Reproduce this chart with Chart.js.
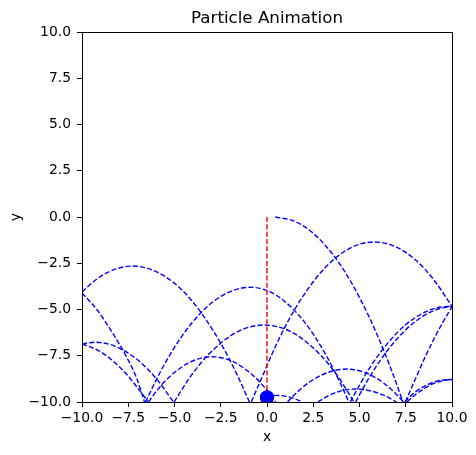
<!DOCTYPE html>
<html><head><meta charset="utf-8">
<script src="https://cdn.jsdelivr.net/npm/chart.js@4"></script>
<style>html,body{margin:0;padding:0;background:#fff}canvas{display:block}</style>
</head><body>
<canvas id="c" width="476" height="455"></canvas>
<script>
// tick values (both axes)
const tickValues = [-10, -7.5, -5, -2.5, 0, 2.5, 5, 7.5, 10];

// particle trail, one array per flight segment (x, y)
const arc1  = [[0.45,0],[1.5,-0.23],[2.5,-0.88],[3.5,-1.95],[4.5,-3.44],[5.5,-5.36],[6.3,-7.19],[6.9,-8.74],[7.35,-10]];
const arc2  = [[7.48,-10],[8,-8.8],[8.5,-7.67],[9,-6.64],[9.5,-5.7],[10,-4.85]];
const arc3  = [[-0.85,-10],[-0.2,-8.5],[0.5,-6.9],[1.5,-4.99],[3,-2.89],[4.5,-1.68],[5.8,-1.35],[7,-1.63],[8,-2.3],[9,-3.37],[10,-4.83]];
const arc4  = [[-10,-4.05],[-9.3,-3.43],[-8.5,-2.94],[-7.25,-2.65],[-5.5,-3.22],[-4,-4.6],[-2.5,-6.82],[-1.6,-8.56],[-0.95,-10]];
const arc5  = [[-10,-4.1],[-9.2,-5.0],[-8.3,-6.35],[-7.6,-7.55],[-7.05,-8.7],[-6.62,-10]];
const arc6  = [[-6.57,-10],[-5.5,-7.88],[-4,-5.65],[-2.5,-4.29],[-0.9,-3.8],[0.5,-4.23],[2,-5.64],[3.2,-7.48],[4.0,-9.06],[4.42,-10]];
const arc7  = [[4.5,-10],[5.5,-8.23],[6.5,-6.85],[7.5,-5.82],[8.5,-5.16],[9.3,-4.88],[10,-4.83]];
const arc7b = [[4.79,-10],[5.5,-8.72],[6.5,-7.23],[7.5,-6.09],[8.5,-5.32],[9.3,-4.96],[10,-4.83]];
const arc8  = [[-5.02,-10],[-4.15,-8.64],[-3.15,-7.42],[-1.65,-6.23],[-0.15,-5.84],[1.35,-6.23],[2.85,-7.42],[3.85,-8.64],[4.7,-10]];
const arc9  = [[-10,-6.86],[-9.3,-6.77],[-8.2,-6.99],[-7,-7.72],[-6,-8.72],[-5.05,-10]];
const arc9b = [[-10,-6.86],[-9.2,-7.17],[-8.4,-7.72],[-7.6,-8.49],[-6.9,-9.36],[-6.42,-10]];
const arc10 = [[-6.4,-10],[-5.87,-9.28],[-5.17,-8.55],[-4.17,-7.85],[-2.97,-7.55],[-1.77,-7.85],[-0.77,-8.55],[-0.07,-9.28],[0.46,-10]];
const arc11 = [[1.11,-10],[1.6,-9.5],[2.3,-8.92],[3.3,-8.4],[4.3,-8.22],[5.3,-8.41],[6.3,-8.97],[7.0,-9.59],[7.38,-10]];
const arc12 = [[7.45,-10],[8,-9.47],[8.5,-9.15],[9,-8.93],[9.5,-8.81],[10,-8.78]];
const arc12b= [[7.57,-10],[8,-9.62],[8.5,-9.27],[9,-9.01],[9.5,-8.85],[10,-8.78]];
const arc13 = [[2.75,-10],[3.3,-9.67],[3.9,-9.43],[4.75,-9.3],[5.6,-9.4],[6.3,-9.63],[7.0,-10]];
const arc14 = [[0,-9.7],[0.5,-9.64],[0.97,-9.68],[1.42,-9.8],[1.9,-10]];

// red guide line and particle position
const guideLine = [[0,0],[0,-9.75]];
const particle = [[0,-9.75]];

const trail = [arc1,arc2,arc3,arc4,arc5,arc6,arc7,arc7b,arc8,arc9,arc9b,arc10,arc11,arc12,arc12b,arc13,arc14];

const toXY = a => a.map(p => ({x:p[0], y:p[1]}));
const fmt = v => v.toFixed(1).replace('-', '\u2212');
const FONT = 'DejaVu Sans';
const DASH = [5.1, 2.2];

const datasets = [
  {data: toXY(particle), showLine:false, pointRadius:6.5, pointBorderWidth:1.4,
   pointBackgroundColor:'#0000ff', pointBorderColor:'#0000ff'},
  {data: toXY(guideLine), borderColor:'#ff0000', borderWidth:1.4, borderDash:DASH, pointRadius:0, tension:0}
];
trail.forEach(a => datasets.push({
  data: toXY(a), borderColor:'#0000ff', borderWidth:1.4, borderDash:DASH,
  pointRadius:0, cubicInterpolationMode:'monotone', fill:false
}));

const frame = {
  id:'frame',
  afterDraw(chart){
    const {ctx, chartArea:a} = chart;
    ctx.save();
    ctx.strokeStyle = '#000';
    ctx.lineWidth = 1;
    ctx.strokeRect(Math.round(a.left)+0.5, Math.round(a.top)+0.5, Math.round(a.right-a.left), Math.round(a.bottom-a.top));
    ctx.restore();
  }
};

const tickSetter = scale => { scale.ticks = tickValues.map(v => ({value:v})); };

new Chart(document.getElementById('c'), {
  type:'line',
  data:{datasets},
  plugins:[frame],
  options:{
    responsive:false, animation:false, devicePixelRatio:1,
    layout:{padding:{left:0, right:24, top:0, bottom:0}},
    plugins:{
      legend:{display:false}, tooltip:{enabled:false},
      title:{display:true, text:'Particle Animation', fullSize:false, color:'#000',
             font:{family:FONT, size:16.7, weight:'normal'}, padding:{top:9, bottom:3}}
    },
    scales:{
      x:{type:'linear', min:-10, max:10, afterBuildTicks:tickSetter,
         afterFit(s){ s.height = 53; },
         grid:{display:true, drawOnChartArea:false, drawTicks:true, tickLength:5, color:'#000'},
         border:{display:false},
         ticks:{color:'#000', font:{family:FONT, size:13.9}, padding:3, maxRotation:0, autoSkip:false,
                callback: v => fmt(v)},
         title:{display:true, text:'x', color:'#000', font:{family:FONT, size:13.9}, padding:{top:0, bottom:9.7}}},
      y:{type:'linear', min:-10, max:10, afterBuildTicks:tickSetter,
         afterFit(s){ s.width = 82; },
         grid:{display:true, drawOnChartArea:false, drawTicks:true, tickLength:5, color:'#000'},
         border:{display:false},
         ticks:{color:'#000', font:{family:FONT, size:13.9}, padding:6, autoSkip:false,
                callback: v => fmt(v)},
         title:{display:true, text:'y', color:'#000', font:{family:FONT, size:13.9}, padding:{top:7.7, bottom:0}}}
    }
  }
});
</script>
</body></html>
